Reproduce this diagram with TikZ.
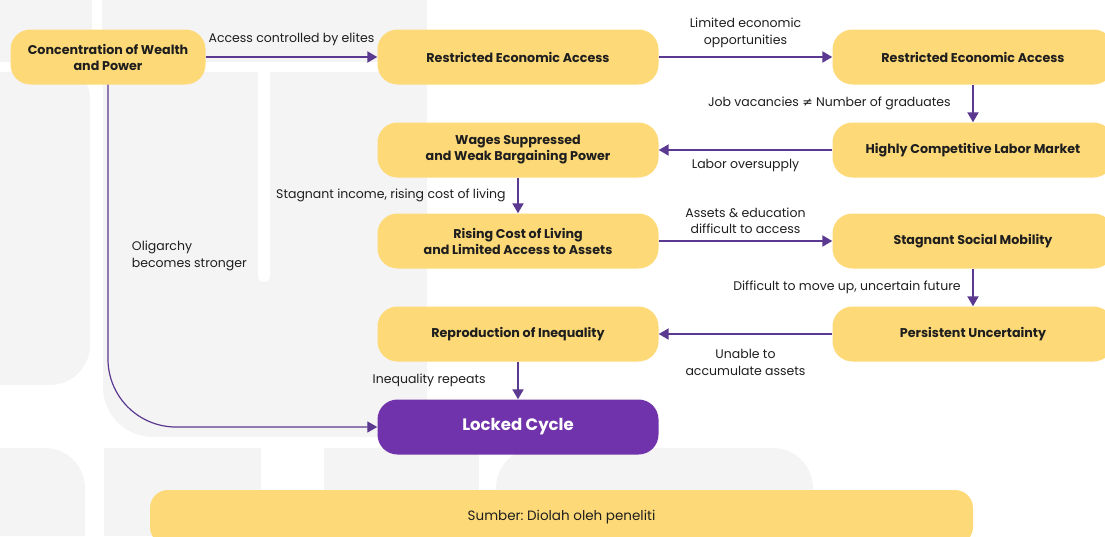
\documentclass[tikz,border=0pt]{standalone}
\usepackage{fontspec}
\setmainfont{Poppins}
\newfontfamily\symfont{DejaVu Sans}
\usetikzlibrary{arrows.meta}
\definecolor{boxyellow}{HTML}{FDD978}
\definecolor{lockpurple}{HTML}{7133AB}
\definecolor{arrowpurple}{HTML}{5B3990}
\definecolor{bggrey}{HTML}{F4F4F4}
\definecolor{textdark}{HTML}{1E1E1E}
\begin{document}
\begin{tikzpicture}
[x=1pt,y=-1pt,
 ar/.style={-{Triangle[length=10pt,width=11pt]},line width=2pt,draw=arrowpurple},
 thinar/.style={-{Triangle[length=10pt,width=11pt]},line width=1.2pt,draw=arrowpurple},
 box/.style={fill=boxyellow,rounded corners=20pt,minimum width=281pt,minimum height=55pt,align=center,text=textdark,font=\bfseries\fontsize{12.7}{16}\selectfont},
 lab/.style={text=textdark,align=center,font=\fontsize{12.5}{16.5}\selectfont},
 bg/.style={fill=bggrey}]
\useasboundingbox (0,0) rectangle (1105,536);

% background blocks
\fill [bg] (0,0) rectangle (92,62);
\fill [bg] (102,0) rectangle (427,62);
\fill [bg] (0,72) [rounded corners=25pt] -- (90,72) [rounded corners=40pt] -- (90,385) [sharp corners] -- (0,385) -- cycle;
\fill [bg] (427,72) -- (103,72) [rounded corners=50pt] -- (103,437) [sharp corners] -- (427,437) -- cycle;
\fill [white, rounded corners=5pt] (258,66) rectangle (270,282);
\fill [bg] (0,448) [rounded corners=40pt] -- (85,448) [sharp corners] -- (85,536) -- (0,536) -- cycle;
\fill [bg] (104,448) rectangle (261,536);
\fill [bg] (324,448) rectangle (479,536);
\fill [bg] (496,536) [rounded corners=40pt] -- (496,448) -- (813,448) [sharp corners] -- (813,536) -- cycle;

% nodes
\node [box,minimum width=195pt] at (108,57) (conc) {Concentration of Wealth\\and Power};
\node [box] at (518,57) (rea) {Restricted Economic Access};
\node [box] at (973,57) (reb) {Restricted Economic Access};
\node [box] at (973,150) (labor) {Highly Competitive Labor Market};
\node [box] at (518,150) (wages) {Wages Suppressed\\and Weak Bargaining Power};
\node [box] at (518,241) (cost) {Rising Cost of Living\\and Limited Access to Assets};
\node [box] at (973,241) (mobility) {Stagnant Social Mobility};
\node [box] at (973,334) (uncert) {Persistent Uncertainty};
\node [box] at (518,334) (reprod) {Reproduction of Inequality};
\node [box,fill=lockpurple,text=white,font=\bfseries\fontsize{16.5}{20}\selectfont] at (518,427) (locked) {Locked Cycle};
\node [box,minimum width=823pt,rounded corners=18pt,font=\fontsize{13.5}{16}\selectfont] at (561.5,517.5) (source) {Sumber:\ Diolah oleh peneliti};

% connectors
\draw [ar] (conc) -- (rea) node [lab,midway,above=7pt] {Access controlled by elites};
\draw [ar] (rea) -- (reb) node [lab,midway,above=5pt] {Limited economic\\opportunities};
\draw [ar] (reb) -- (labor) node [lab,midway,left=18pt] {Job vacancies {\symfont ≠} Number of graduates};
\draw [ar] (labor) -- (wages) node [lab,midway,below=5pt] {Labor oversupply};
\draw [ar] (wages) -- (cost) node [lab,midway,left=8pt] {Stagnant income, rising cost of living};
\draw [ar] (cost) -- (mobility) node [lab,midway,above=3pt] {Assets \& education\\difficult to access};
\draw [ar] (mobility) -- (uncert) node [lab,midway,left=8pt] {Difficult to move up, uncertain future};
\draw [ar] (uncert) -- (reprod) node [lab,midway,below=11pt] {Unable to\\accumulate assets};
\draw [ar] (reprod) -- (locked) node [lab,midway,left=28pt] {Inequality repeats};
\draw [thinar,rounded corners=68pt] (conc) |- (locked) node [lab,pos=0.25,right=20pt,align=left] {Oligarchy\\becomes stronger};
\end{tikzpicture}
\end{document}
